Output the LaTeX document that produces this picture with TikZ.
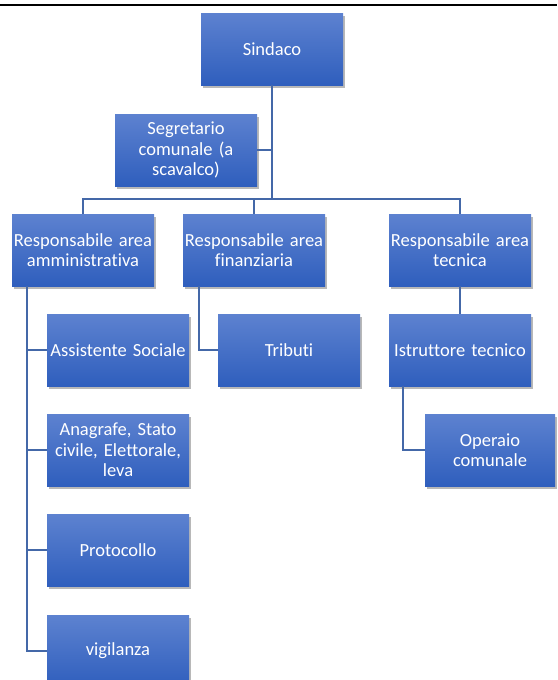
\documentclass[tikz,border=0pt]{standalone}
\usepackage{fontspec}
\setmainfont[Ligatures=NoCommon]{Carlito}
\usetikzlibrary{shadows}
\definecolor{boxtop}{RGB}{93,130,208}
\definecolor{boxbot}{RGB}{47,94,189}
\definecolor{conn}{RGB}{68,104,168}
\tikzset{
  orgbox/.style={anchor=north west, inner sep=0pt, outer sep=0pt,
    minimum width=142pt, minimum height=72pt, text width=140pt, align=center,
    shading=axis, top color=boxtop, bottom color=boxbot, text=white,
    font=\fontsize{18.5}{20.3}\selectfont,
    drop shadow={shadow xshift=1.5pt, shadow yshift=-3pt, opacity=0.28, fill=black}},
  link/.style={draw=conn, line width=2.4pt}
}
\begin{document}
\begin{tikzpicture}[x=1pt, y=-1pt]
\path[use as bounding box, clip] (0,0) rectangle (557,680);
\fill[white] (0,0) rectangle (557,680);
\draw[line width=2pt, black] (0,5) -- (557,5);

\node[orgbox] (sindaco) at (201,13) {Sindaco};
\node[orgbox] (segr) at (115,114) {Segretario\\comunale (a\\scavalco)};
\node[orgbox] (amm) at (12,214) {Responsabile area\\amministrativa};
\node[orgbox] (fin) at (183,214) {Responsabile area\\finanziaria};
\node[orgbox] (tec) at (389,214) {Responsabile area\\tecnica};
\node[orgbox] (ass) at (47,314) {Assistente Sociale};
\node[orgbox] (trib) at (218,314) {Tributi};
\node[orgbox] (istr) at (389,314) {Istruttore tecnico};
\node[orgbox] (anag) at (47,414) {Anagrafe, Stato\\civile, Elettorale,\\leva};
\node[orgbox, minimum width=130pt, text width=128pt] (op) at (425,414) {Operaio\\comunale};
\node[orgbox] (prot) at (47,514) {Protocollo};
\node[orgbox] (vig) at (47,615) {vigilanza};

\coordinate (bus) at (272,199);
\coordinate (ammtrunk) at ([xshift=15pt]amm.south west);
\coordinate (fintrunk) at ([xshift=16pt]fin.south west);
\coordinate (istrtrunk) at ([xshift=14pt]istr.south west);

\draw[link] (sindaco.south) -- (bus);
\draw[link] (segr.east) -- (segr.east -| sindaco.south);
\draw[link] (amm.north) |- (bus) -| (tec.north);
\draw[link] (fin.north) -- (fin.north |- bus);
\draw[link] (ammtrunk) |- (vig.west);
\draw[link] (ammtrunk) |- (ass.west);
\draw[link] (ammtrunk) |- (anag.west);
\draw[link] (ammtrunk) |- (prot.west);
\draw[link] (fintrunk) |- (trib.west);
\draw[link] (tec.south) -- (istr.north);
\draw[link] (istrtrunk) |- (op.west);
\end{tikzpicture}
\end{document}
